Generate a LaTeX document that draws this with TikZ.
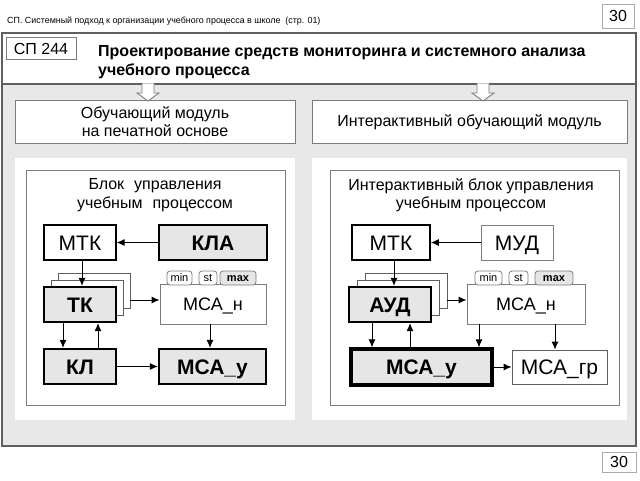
\documentclass[tikz,border=0pt]{standalone}
\usepackage{fontspec}
\setmainfont{Liberation Sans}
\usetikzlibrary{arrows.meta}
\definecolor{bgray}{RGB}{232,232,232}
\definecolor{lgray}{RGB}{125,125,125}
\definecolor{dgray}{RGB}{95,95,95}
\definecolor{bfill}{RGB}{230,230,230}
\definecolor{pgray}{RGB}{170,170,170}
\begin{document}
\begin{tikzpicture}[x=1pt,y=-1pt,
  frame/.style={draw=dgray,line width=1.2pt},
  thinbox/.style={draw=lgray,line width=0.9pt,fill=white,inner sep=0pt},
  modbox/.style={thinbox,font=\fontsize{16}{18}\selectfont,align=center},
  bigtxt/.style={font=\fontsize{21}{24}\selectfont,text height=15pt,text depth=0pt},
  wbox/.style={draw=black,line width=1.1pt,fill=white,inner sep=0pt,bigtxt},
  gbox/.style={draw=black,line width=2.2pt,fill=bfill,inner sep=0pt,font=\fontsize{21}{24}\selectfont\bfseries,text height=15pt,text depth=0pt},
  pagebox/.style={draw=dgray,line width=0.9pt,fill=white,inner sep=0pt},
  tabbox/.style={draw=lgray,line width=0.8pt,fill=white,rounded corners=3pt,inner sep=0pt,minimum height=14pt,font=\fontsize{11}{12}\selectfont,text height=7pt,text depth=0pt},
  tabmax/.style={tabbox,fill=bfill,font=\fontsize{11}{12}\selectfont\bfseries},
  arr/.style={-{Latex[length=8pt,width=7pt]},line width=1pt,black},
  blockarrow/.style={fill=white,draw=lgray,line width=0.9pt}
]
\useasboundingbox[fill=white] (0,0) rectangle (640,480);

% header
\node[anchor=west,font=\fontsize{8.9}{10}\selectfont,inner sep=0pt] (hdr) at (7,21)
  {СП. Системный подход к организации учебного процесса в школе\ \ (стр. 01)};
\node[draw=pgray,line width=0.8pt,fill=white,minimum width=32pt,minimum height=24pt,inner sep=0pt,font=\fontsize{16}{18}\selectfont] (pgtop) at (618,16) {30};

% outer frame
\fill[white] (2,33) rectangle (636,84);
\fill[bgray] (2,84) rectangle (636,446);
\draw[frame] (2,33) rectangle (636,446);
\draw[frame] (2,84) -- (636,84);

\node[thinbox,minimum width=70pt,minimum height=22pt,font=\fontsize{16}{18}\selectfont] (code) at (41,48.5) {СП 244};
\node[anchor=north west,align=left,inner sep=0pt,font=\fontsize{16}{19}\selectfont\bfseries] (title) at (98,45)
  {Проектирование средств мониторинга и системного анализа\\учебного процесса};

% white panels and inner frames
\fill[white] (15,158) rectangle (295,420);
\fill[white] (312,158) rectangle (627,420);
\draw[draw=lgray,line width=0.9pt] (26,170) rectangle (285,405);
\draw[draw=lgray,line width=0.9pt] (330,170) rectangle (619,405);

% module boxes
\node[modbox,minimum width=280pt,minimum height=43pt] (modL) at (155,122) {Обучающий модуль\\на печатной основе};
\node[modbox,minimum width=315pt,minimum height=43pt] (modR) at (469.5,122) {Интерактивный обучающий модуль};

% block arrows
\filldraw[blockarrow] (142,83.3) -- (142,93) -- (137,93) -- (148,101) -- (159,93) -- (154,93) -- (154,83.3);
\filldraw[blockarrow] (477,83.3) -- (477,93) -- (472,93) -- (483,101) -- (494,93) -- (489,93) -- (489,83.3);

% block titles
\node[align=center,inner sep=0pt,font=\fontsize{16}{18.5}\selectfont] (ttlL) at (155,195)
  {Блок\hspace{10pt}управления\\учебным\hspace{10pt}процессом};
\node[align=center,inner sep=0pt,font=\fontsize{16}{18.5}\selectfont] (ttlR) at (471,195)
  {Интерактивный блок управления\\учебным процессом};

% ---- left diagram
\node[wbox,minimum width=72pt,minimum height=35pt] (mtkL) at (80,242.5) {МТК};
\node[gbox,minimum width=108pt,minimum height=35pt] (kla) at (213,242.5) {КЛА};
\node[pagebox,minimum width=72pt,minimum height=35pt] (tkb2) at (94,290.5) {};
\node[pagebox,minimum width=72pt,minimum height=35pt] (tkb1) at (87,297.5) {};
\node[gbox,minimum width=72pt,minimum height=35pt] (tk) at (80,304.5) {ТК};
\node[thinbox,minimum width=106pt,minimum height=40pt,font=\fontsize{18}{20}\selectfont,text height=13pt,text depth=0pt] (mcanL) at (213,304) {МСА\_н};
\node[tabbox,minimum width=25pt] (minL) at (179.5,278) {min};
\node[tabbox,minimum width=18pt] (stL) at (208,278) {st};
\node[tabmax,minimum width=36pt] (maxL) at (238,278) {max};
\node[gbox,minimum width=72pt,minimum height=35pt] (kl) at (80,366.5) {КЛ};
\node[gbox,minimum width=107pt,minimum height=35pt] (mcayL) at (212.5,366.5) {МСА\_у};

\draw[arr] (kla.west) -- (mtkL.east);
\draw[arr] ([xshift=2pt]mtkL.south) -- ([xshift=2pt]tk.north);
\draw[arr] ([yshift=4pt]tkb2.east |- mcanL.west) -- ([yshift=4pt]mcanL.west);
\draw[arr] ([xshift=-17pt]tk.south) -- ([xshift=-17pt]kl.north);
\draw[arr] ([xshift=18pt]kl.north) -- ([xshift=18pt]tk.south);
\draw[arr] (kl.east) -- (mcayL.west);
\draw[arr] ([xshift=-3pt]mcanL.south) -- ([xshift=-3pt]mcanL.south |- mcayL.north);

% ---- right diagram
\node[wbox,line width=1.6pt,minimum width=78pt,minimum height=35pt] (mtkR) at (391,242.5) {МТК};
\node[thinbox,minimum width=72pt,minimum height=35pt,bigtxt] (mud) at (517,242.5) {МУД};
\node[pagebox,minimum width=82pt,minimum height=35pt] (audb2) at (406,290.5) {};
\node[pagebox,minimum width=82pt,minimum height=35pt] (audb1) at (398,297.5) {};
\node[gbox,minimum width=82pt,minimum height=35pt] (aud) at (390,304.5) {АУД};
\node[thinbox,minimum width=118pt,minimum height=40pt,font=\fontsize{18}{20}\selectfont,text height=13pt,text depth=0pt] (mcanR) at (526,304) {МСА\_н};
\node[tabbox,minimum width=27pt] (minR) at (488.5,278) {min};
\node[tabbox,minimum width=19pt] (stR) at (518.5,278) {st};
\node[tabmax,minimum width=38pt] (maxR) at (554,278) {max};
\node[gbox,line width=3.2pt,minimum width=141pt,minimum height=36pt] (mcayR) at (421.5,367) {МСА\_у};
\node[thinbox,draw=dgray,minimum width=95pt,minimum height=34pt,bigtxt] (mcagr) at (559.5,367) {МСА\_гр};

\draw[arr] (mud.west) -- (mtkR.east);
\draw[arr] ([xshift=3pt]mtkR.south) -- ([xshift=3pt]mtkR.south |- aud.north);
\draw[arr] ([yshift=4pt]audb2.east |- mcanR.west) -- ([yshift=4pt]mcanR.west);
\draw[arr] ([xshift=-18pt]aud.south) -- ([xshift=-18pt]aud.south |- mcayR.north);
\draw[arr] ([xshift=20pt]aud.south |- mcayR.north) -- ([xshift=20pt]aud.south);
\draw[arr] ([xshift=-47pt]mcanR.south) -- ([xshift=-47pt]mcanR.south |- mcayR.north);
\draw[arr] ([xshift=29pt]mcanR.south) -- ([xshift=29pt]mcanR.south |- mcagr.north);
\draw[arr] (mcayR.east) -- (mcagr.west);

% footer page number
\node[draw=pgray,line width=0.8pt,fill=white,minimum width=34pt,minimum height=20pt,inner sep=0pt,font=\fontsize{16}{18}\selectfont] (pgbot) at (619,462) {30};
\end{tikzpicture}
\end{document}
